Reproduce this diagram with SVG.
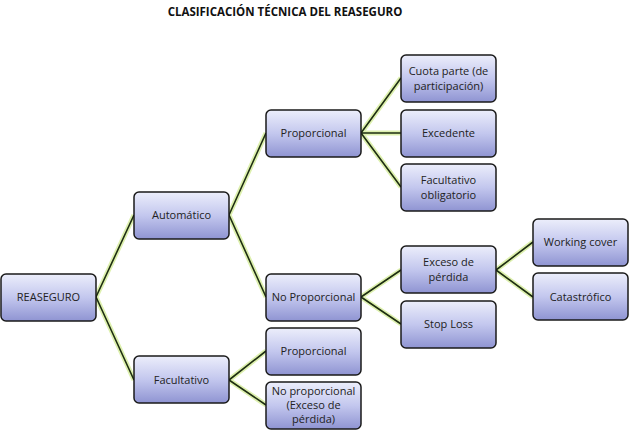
<svg xmlns="http://www.w3.org/2000/svg" width="640" height="432" viewBox="0 0 640 432">
<style>
.b{fill:url(#g);stroke:#1a1a1a;stroke-width:1.5}
.t{font-family:"Open Sans","Liberation Sans",sans-serif;font-size:11px;fill:#222;text-anchor:middle}
.glow{stroke:#d4ec9a;stroke-width:5;fill:none;opacity:0.8}
.ln{stroke:#1e2e12;stroke-width:1.6;fill:none}
</style>
<defs>
<linearGradient id="g" x1="0" y1="0" x2="0" y2="1">
<stop offset="0" stop-color="#eceefb"/><stop offset="0.5" stop-color="#c3c7ee"/><stop offset="1" stop-color="#8f94d2"/>
</linearGradient>
</defs>
<rect width="640" height="432" fill="#fff"/>
<text x="285" y="16" font-family="'Open Sans','Liberation Sans',sans-serif" font-size="11.5" font-weight="bold" text-anchor="middle" fill="#111">CLASIFICACIÓN TÉCNICA DEL REASEGURO</text>
<g id="connectors">
<path class="glow" d="M96 297L134 215M96 297L134 380M229 215L266 133M229 215L266 297M229 380L266 351M229 380L266 405M361 133L401 78M361 133L401 133M361 133L401 187M361 297L401 270M361 297L401 324M496 270L533 242M496 270L533 297"/>
<path class="ln" d="M96 297L134 215M96 297L134 380M229 215L266 133M229 215L266 297M229 380L266 351M229 380L266 405M361 133L401 78M361 133L401 133M361 133L401 187M361 297L401 270M361 297L401 324M496 270L533 242M496 270L533 297"/>
</g>
<g id="reaseguro"><rect class="b" x="1" y="274" width="95" height="47" rx="5"/><text class="t" x="48.5" y="301">REASEGURO</text></g>
<g id="automatico"><rect class="b" x="134" y="192" width="95" height="47" rx="5"/><text class="t" x="181.5" y="219">Automático</text></g>
<g id="facultativo"><rect class="b" x="134" y="356" width="95" height="47" rx="5"/><text class="t" x="181.5" y="384">Facultativo</text></g>
<g id="proporcional"><rect class="b" x="266" y="110" width="95" height="47" rx="5"/><text class="t" x="313.5" y="137">Proporcional</text></g>
<g id="noproporcional"><rect class="b" x="266" y="274" width="95" height="47" rx="5"/><text class="t" x="313.5" y="301">No Proporcional</text></g>
<g id="cuota"><rect class="b" x="401" y="55" width="95" height="47" rx="5"/><text class="t" x="448.5" y="75">Cuota parte (de</text><text class="t" x="448.5" y="90">participación)</text></g>
<g id="excedente"><rect class="b" x="401" y="110" width="95" height="47" rx="5"/><text class="t" x="448.5" y="137">Excedente</text></g>
<g id="facobl"><rect class="b" x="401" y="164" width="95" height="47" rx="5"/><text class="t" x="448.5" y="184">Facultativo</text><text class="t" x="448.5" y="199">obligatorio</text></g>
<g id="exceso"><rect class="b" x="401" y="246" width="95" height="47" rx="5"/><text class="t" x="448.5" y="266">Exceso de</text><text class="t" x="448.5" y="281">pérdida</text></g>
<g id="stoploss"><rect class="b" x="401" y="301" width="95" height="47" rx="5"/><text class="t" x="448.5" y="328">Stop Loss</text></g>
<g id="working"><rect class="b" x="533" y="219" width="95" height="47" rx="5"/><text class="t" x="580.5" y="246">Working cover</text></g>
<g id="catastrofico"><rect class="b" x="533" y="273" width="95" height="47" rx="5"/><text class="t" x="580.5" y="301">Catastrófico</text></g>
<g id="propfac"><rect class="b" x="266" y="328" width="95" height="47" rx="5"/><text class="t" x="313.5" y="355">Proporcional</text></g>
<g id="noprop"><rect class="b" x="266" y="382" width="95" height="47" rx="5"/><text class="t" x="313.5" y="395">No proporcional</text><text class="t" x="313.5" y="409">(Exceso de</text><text class="t" x="313.5" y="423">pérdida)</text></g>
</svg>
